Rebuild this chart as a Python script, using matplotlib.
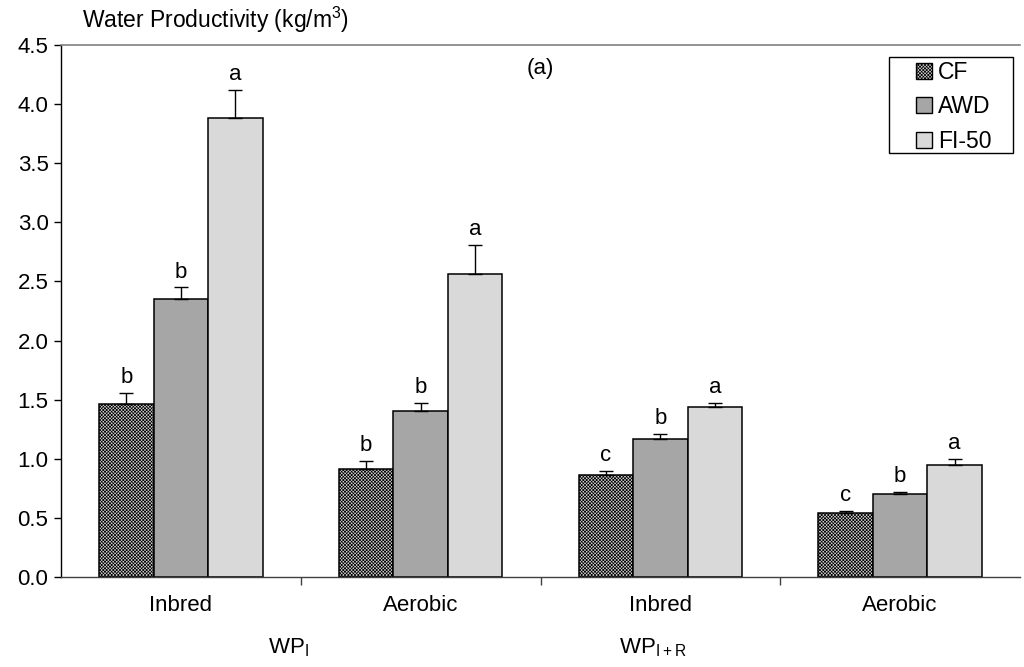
import numpy as np
import matplotlib.pyplot as plt
from matplotlib.patches import Patch, Rectangle

plt.rcParams["font.family"] = ["Liberation Sans", "DejaVu Sans"]
plt.rcParams["hatch.linewidth"] = 0.5
plt.rcParams["hatch.color"] = "#4a4a4a"

groups = ["Inbred", "Aerobic", "Inbred", "Aerobic"]
treatments = ["CF", "AWD", "FI-50"]
cf = [1.46, 0.91, 0.86, 0.54]
awd = [2.35, 1.40, 1.17, 0.70]
fi50 = [3.88, 2.56, 1.44, 0.95]
cf_err = [0.10, 0.07, 0.04, 0.02]
awd_err = [0.10, 0.07, 0.04, 0.02]
fi50_err = [0.24, 0.25, 0.03, 0.05]
cf_sig = ["b", "b", "c", "c"]
awd_sig = ["b", "b", "b", "b"]
fi50_sig = ["a", "a", "a", "a"]

series = [
    (cf, cf_err, cf_sig, dict(facecolor="#d0d0d0", hatch="xxxxxxxxxx")),
    (awd, awd_err, awd_sig, dict(facecolor="#a6a6a6")),
    (fi50, fi50_err, fi50_sig, dict(facecolor="#d9d9d9")),
]

fig = plt.figure(figsize=(10.24, 6.67), dpi=100)
ax = fig.add_axes([61 / 1024, 1 - 577 / 667, (1020 - 61) / 1024, (577 - 45) / 667])

x = np.arange(len(groups))
w = 0.227
handles = []
for i, (vals, errs, sig, style) in enumerate(series):
    pos = x + (i - 1) * w
    ax.bar(pos, vals, w, edgecolor="black", linewidth=1.1, zorder=2, **style)
    ax.errorbar(pos, vals, yerr=[np.zeros(len(vals)), errs], fmt="none",
                ecolor="black", elinewidth=1.0, capsize=5, capthick=1.0, zorder=3)
    for p, v, e, s in zip(pos, vals, errs, sig):
        ax.text(p, v + e + 0.04, s, ha="center", va="bottom", fontsize=16)
    handles.append(Patch(edgecolor="black", linewidth=1.0, label=treatments[i], **style))

ax.set_xlim(-0.5, 3.5)
ax.set_ylim(0, 4.5)
ax.set_yticks(np.arange(0, 4.51, 0.5))
ax.set_yticklabels([f"{v:.1f}" for v in np.arange(0, 4.51, 0.5)], fontsize=16)
ax.set_xticks([0.5, 1.5, 2.5])
ax.set_xticklabels([])
for i, g in enumerate(groups):
    ax.text(i, -0.15, g, ha="center", va="top", fontsize=16)
ax.text(0.45, -0.50, r"WP$_\mathregular{I}$", ha="center", va="top", fontsize=16)
ax.text(1.97, -0.50, r"WP$_\mathregular{I+R}$", ha="center", va="top", fontsize=16)
ax.tick_params(axis="both", direction="out", length=5, width=1, color="black", pad=4)
ax.tick_params(axis="x", length=6, color="#404040")

ax.spines["right"].set_visible(False)
ax.spines["top"].set_color("#808080")
ax.spines["top"].set_linewidth(1.2)
ax.spines["left"].set_linewidth(1.0)
ax.spines["bottom"].set_linewidth(1.0)
ax.spines["bottom"].set_color("#404040")

ax.text(1.5, 4.30, "(a)", ha="center", va="center", fontsize=16)
fig.text(82 / 1024, 1 - 20 / 667, r"Water Productivity (kg/m$^\mathregular{3}$)",
         ha="left", va="center", fontsize=16.5)

# legend: frameless entries with a square frame drawn round them
fig.patches.append(Rectangle((889 / 1024, 1 - 153 / 667), 124 / 1024, 96 / 667,
                             transform=fig.transFigure, fill=False,
                             edgecolor="black", linewidth=1.0, zorder=5))
ax.legend(handles=handles, loc="upper left", bbox_to_anchor=(916 / 1024, 1 - 61 / 667),
          bbox_transform=fig.transFigure, fontsize=16.5, frameon=False,
          handlelength=0.7, handleheight=0.7, handletextpad=0.25,
          labelspacing=0.5, borderpad=0, borderaxespad=0)

fig.savefig("out.png", dpi=100)
